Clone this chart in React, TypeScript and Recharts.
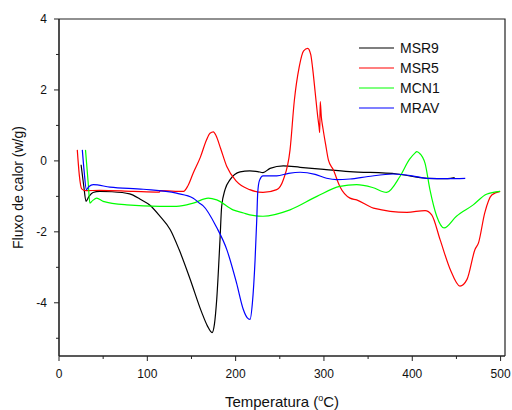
import React from "react";
import { LineChart, Line, XAxis, YAxis, Legend } from "recharts";

// MSR9 (black)
const msr9T = [25, 28, 30.6, 34, 38.5, 46, 60, 80, 92, 103, 114, 126, 136, 148, 161.6, 168, 173.3, 176, 178.6, 182.3, 184.2, 188, 193.7, 205, 216, 225, 231, 239, 254, 273, 300, 329, 383, 417, 440, 448];
const msr9V = [-0.11, -0.7, -1.14, -1.0, -0.89, -0.86, -0.87, -0.93, -1.08, -1.25, -1.55, -1.94, -2.5, -3.3, -4.27, -4.65, -4.84, -4.6, -3.9, -2.22, -1.28, -0.81, -0.53, -0.31, -0.28, -0.3, -0.33, -0.21, -0.14, -0.18, -0.24, -0.3, -0.37, -0.49, -0.5, -0.47];

// MSR5 (red)
const msr5T = [20.7, 23, 25.7, 30, 46, 84, 113.5, 114.5, 141, 146, 152, 160, 167, 171, 174.8, 178, 183, 190, 201, 216, 231, 246.5, 254, 261.6, 266.5, 272, 277, 281.6, 285, 287, 290, 293, 294.5, 295.2, 295.8, 297, 299, 302, 305, 310.6, 318, 329.5, 337, 356, 394, 414.5, 422, 431.5, 443, 454, 462, 471, 475, 482, 490, 499.5];
const msr5V = [0.31, -0.4, -0.79, -0.84, -0.83, -0.86, -0.88, -0.84, -0.86, -0.7, -0.34, 0.1, 0.59, 0.78, 0.82, 0.7, 0.35, -0.16, -0.58, -0.81, -0.89, -0.81, -0.53, 0.31, 1.71, 2.65, 3.1, 3.17, 3.0, 2.65, 1.95, 1.24, 0.95, 0.8, 1.67, 1.25, 0.9, 0.45, 0.03, -0.25, -0.72, -1.05, -1.1, -1.33, -1.45, -1.4, -1.52, -2.22, -3.06, -3.53, -3.34, -2.5, -2.31, -1.47, -0.96, -0.86];

// MCN1 (green)
const mcn1T = [30, 33, 35, 38, 42.7, 50, 76.7, 114, 133, 152, 169, 178.6, 197, 209, 216, 231, 261.6, 292, 318, 337, 355, 371, 386, 397, 403, 405, 408, 414.5, 420, 427.7, 436, 450, 469, 484, 499.5];
const mcn1V = [0.31, -0.6, -1.19, -1.12, -1.05, -1.14, -1.24, -1.28, -1.28, -1.19, -1.05, -1.1, -1.38, -1.47, -1.52, -1.56, -1.38, -1.0, -0.72, -0.67, -0.75, -0.89, -0.44, 0.05, 0.22, 0.26, 0.22, -0.07, -0.81, -1.56, -1.89, -1.56, -1.24, -0.94, -0.86];

// MRAV (blue)
const mravT = [26.4, 28.5, 31, 34, 38.8, 57.7, 95.5, 133, 152, 159.5, 163, 178.6, 190, 201, 208.7, 213, 216.3, 219, 222, 224, 225, 227, 231, 246.5, 260, 273, 290, 303, 314.5, 329.5, 350, 378.6, 400, 416, 440, 460];
const mravV = [0.31, -0.3, -0.81, -0.72, -0.67, -0.74, -0.8, -0.91, -1.05, -1.2, -1.26, -1.88, -2.5, -3.44, -4.19, -4.42, -4.47, -4.0, -2.8, -1.6, -0.9, -0.55, -0.42, -0.42, -0.35, -0.32, -0.38, -0.49, -0.53, -0.51, -0.44, -0.37, -0.42, -0.49, -0.5, -0.49];

const xTicks = [0, 50, 100, 150, 200, 250, 300, 350, 400, 450, 500];
const yTicks = [-5, -4, -3, -2, -1, 0, 1, 2, 3, 4];
const xMax = 505;
const yMin = -5.5;
const yMax = 4;

const seriesNames = ["MSR9", "MSR5", "MCN1", "MRAV"];
const seriesColors = ["#000000", "#ff0000", "#00ff00", "#0000ff"];

const zip = (t: number[], v: number[]) => t.map((x, i) => ({ t: x, v: v[i] }));
const seriesData = [zip(msr9T, msr9V), zip(msr5T, msr5V), zip(mcn1T, mcn1V), zip(mravT, mravV)];

const FONT = "'Liberation Sans', Arial, Helvetica, sans-serif";
const AXIS = "#222";

const CHART_W = 512;
const CHART_H = 410;
const MARGIN = { top: 19, right: 7, bottom: 0, left: 0 };
const Y_AXIS_W = 59;
const X_AXIS_H = 54;
const PLOT_W = CHART_W - MARGIN.left - Y_AXIS_W - MARGIN.right;
const PLOT_H = CHART_H - MARGIN.top - MARGIN.bottom - X_AXIS_H;

const XTick = (props: any) => {
  const { x, y, payload } = props;
  const major = payload.value % 100 === 0;
  return (
    <g>
      <line x1={x} x2={x} y1={y} y2={y + (major ? 5 : 3)} stroke={AXIS} strokeWidth={1} />
      {major && (
        <text x={x} y={y + 22} textAnchor="middle" fontSize={12} fontFamily={FONT} fill="#111">
          {payload.value}
        </text>
      )}
    </g>
  );
};

const YTick = (props: any) => {
  const { x, y, payload } = props;
  const major = payload.value % 2 === 0;
  const isTop = payload.value === yMax;
  return (
    <g>
      {isTop && (
        <path d={`M${x} ${y} L${x + PLOT_W} ${y} L${x + PLOT_W} ${y + PLOT_H}`} fill="none" stroke={AXIS} strokeWidth={1.2} />
      )}
      <line x1={x} x2={x - (major ? 5 : 3)} y1={y} y2={y} stroke={AXIS} strokeWidth={1} />
      {major && (
        <text x={x - 12} y={y + 4.3} textAnchor="end" fontSize={12} fontFamily={FONT} fill="#111">
          {payload.value}
        </text>
      )}
    </g>
  );
};

const XLabel = (props: any) => {
  const vb = props.viewBox || {};
  const cx = vb.x + vb.width / 2;
  return (
    <text x={cx} y={vb.y + 51} textAnchor="middle" fontSize={15} fontFamily={FONT} fill="#111">
      Temperatura (
      <tspan dy={-6} fontSize={9}>o</tspan>
      <tspan dy={6}>C)</tspan>
    </text>
  );
};

const YLabel = (props: any) => {
  const vb = props.viewBox || {};
  const cy = vb.y + vb.height / 2;
  const x = 23;
  return (
    <text x={x} y={cy} transform={`rotate(-90 ${x} ${cy})`} textAnchor="middle" fontSize={14} fontFamily={FONT} fill="#111">
      Fluxo de calor (w/g)
    </text>
  );
};

const LegendContent = () => (
  <svg width={130} height={90}>
    {seriesNames.map((name, i) => (
      <g key={name}>
        <line x1={4} x2={39} y1={12 + i * 20} y2={12 + i * 20} stroke={seriesColors[i]} strokeWidth={1.2} />
        <text x={45} y={17 + i * 20} fontSize={14} fontFamily={FONT} fill="#111">
          {name}
        </text>
      </g>
    ))}
  </svg>
);

export default function App() {
  return (
    <div style={{ position: "absolute", left: 0, top: 0, width: CHART_W, height: CHART_H, background: "#fff" }}>
      <LineChart width={CHART_W} height={CHART_H} margin={MARGIN}>
        <XAxis
          type="number"
          dataKey="t"
          domain={[0, xMax]}
          ticks={xTicks}
          allowDataOverflow
          interval={0}
          height={X_AXIS_H}
          tickSize={0}
          tickMargin={0}
          tickLine={false}
          tick={<XTick />}
          axisLine={{ stroke: AXIS, strokeWidth: 1.6 }}
          label={<XLabel />}
        />
        <YAxis
          type="number"
          domain={[yMin, yMax]}
          ticks={yTicks}
          allowDataOverflow
          interval={0}
          width={Y_AXIS_W}
          tickSize={0}
          tickMargin={0}
          tickLine={false}
          tick={<YTick />}
          axisLine={{ stroke: AXIS, strokeWidth: 1.6 }}
          label={<YLabel />}
        />
        <Legend
          layout="vertical"
          align="center"
          verticalAlign="middle"
          content={<LegendContent />}
          wrapperStyle={{ position: "absolute", left: 355, top: 36, width: 130, height: 90 }}
        />
        {seriesData.map((d, i) => (
          <Line
            key={seriesNames[i]}
            data={d}
            dataKey="v"
            name={seriesNames[i]}
            type="monotone"
            stroke={seriesColors[i]}
            strokeWidth={1.2}
            dot={false}
            activeDot={false}
            isAnimationActive={false}
          />
        ))}
      </LineChart>
    </div>
  );
}
